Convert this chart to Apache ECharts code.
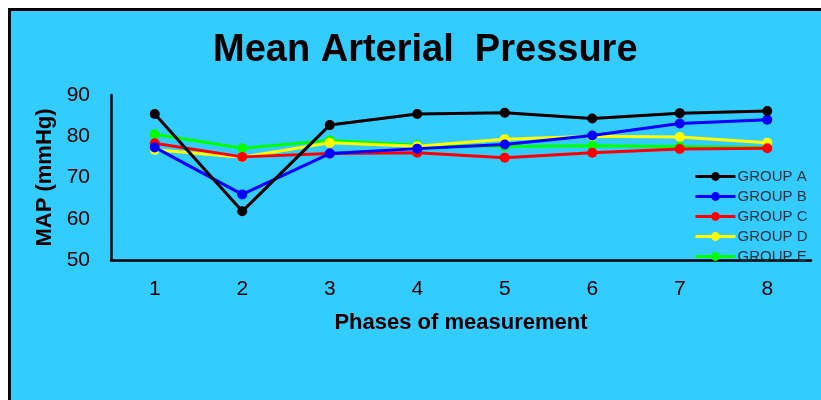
<!DOCTYPE html>
<html><head><meta charset="utf-8">
<script src="https://cdn.jsdelivr.net/npm/echarts@6/dist/echarts.min.js"></script>
<style>html,body{margin:0;padding:0;background:#fff}#c{width:821px;height:400px}</style>
</head><body><div id="c"></div>
<script>
var categories = ['1','2','3','4','5','6','7','8'];
var groupA = [85.4, 61.8, 82.7, 85.4, 85.7, 84.3, 85.6, 86.1];
var groupB = [77.3, 65.9, 75.8, 77.0, 78.0, 80.2, 83.1, 84.0];
var groupC = [78.3, 75.0, 75.8, 76.0, 74.8, 76.0, 76.9, 77.1];
var groupD = [76.7, 74.9, 78.4, 77.6, 79.3, 80.0, 79.8, 78.4];
var groupE = [80.5, 77.1, 79.0, 77.9, 77.5, 77.7, 77.5, 77.3];
var seriesNames = ['GROUP A','GROUP B','GROUP C','GROUP D','GROUP E'];
var seriesColors = ['#000000','#0000ff','#ff0000','#ffff00','#00ff00'];
var yTicks = [50, 60, 70, 80, 90];

var chart = echarts.init(document.getElementById('c'), null, {renderer:'canvas'});
var data = [groupA, groupB, groupC, groupD, groupE];
var series = data.map(function(d,i){
  return {name: seriesNames[i], type:'line', data:d, symbol:'circle', symbolSize:10,
    lineStyle:{width:3,color:seriesColors[i]}, itemStyle:{color:seriesColors[i]}, z: 10-i};
});
chart.setOption({
  backgroundColor:'#ffffff',
  animation:false,
  graphic:[{type:'rect', left:8, top:8, z:-10, shape:{x:0,y:0,width:900,height:500},
    style:{fill:'#33ccff', stroke:'#000', lineWidth:3}}],
  title:{text:'Mean Arterial  Pressure', left:208, top:27,
    textStyle:{fontFamily:'Liberation Sans, Arial', fontWeight:'bold', fontSize:38, color:'#000'}},
  grid:{left:111, right:10, top:95, bottom:140},
  legend:{orient:'vertical', left:689, top:164, itemWidth:40, itemHeight:11, itemGap:5, itemStyle:{}, lineStyle:{width:3},
    data:seriesNames,
    textStyle:{fontFamily:'Liberation Sans, Arial', fontSize:15, color:'#16303c', padding:[0,0,0,-3]}},
  xAxis:{type:'category', data:categories, boundaryGap:true,
    name:'Phases of measurement', nameLocation:'middle', nameGap:52,
    nameTextStyle:{fontFamily:'Liberation Sans, Arial', fontWeight:'bold', fontSize:22, color:'#000'},
    axisLine:{lineStyle:{color:'#000',width:2.5}}, axisTick:{show:false},
    axisLabel:{fontFamily:'Liberation Sans, Arial', fontSize:21, color:'#000', margin:19}},
  yAxis:{type:'value', min:yTicks[0], max:yTicks[yTicks.length-1], interval:10,
    name:'MAP (mmHg)', nameLocation:'middle', nameGap:52, nameRotate:90,
    nameTextStyle:{fontFamily:'Liberation Sans, Arial', fontWeight:'bold', fontSize:22, color:'#000'},
    axisLine:{show:true, lineStyle:{color:'#000',width:2.5}}, axisTick:{show:false},
    splitLine:{show:false},
    axisLabel:{fontFamily:'Liberation Sans, Arial', fontSize:21, color:'#000', margin:21}},
  series: series
});
</script></body></html>
